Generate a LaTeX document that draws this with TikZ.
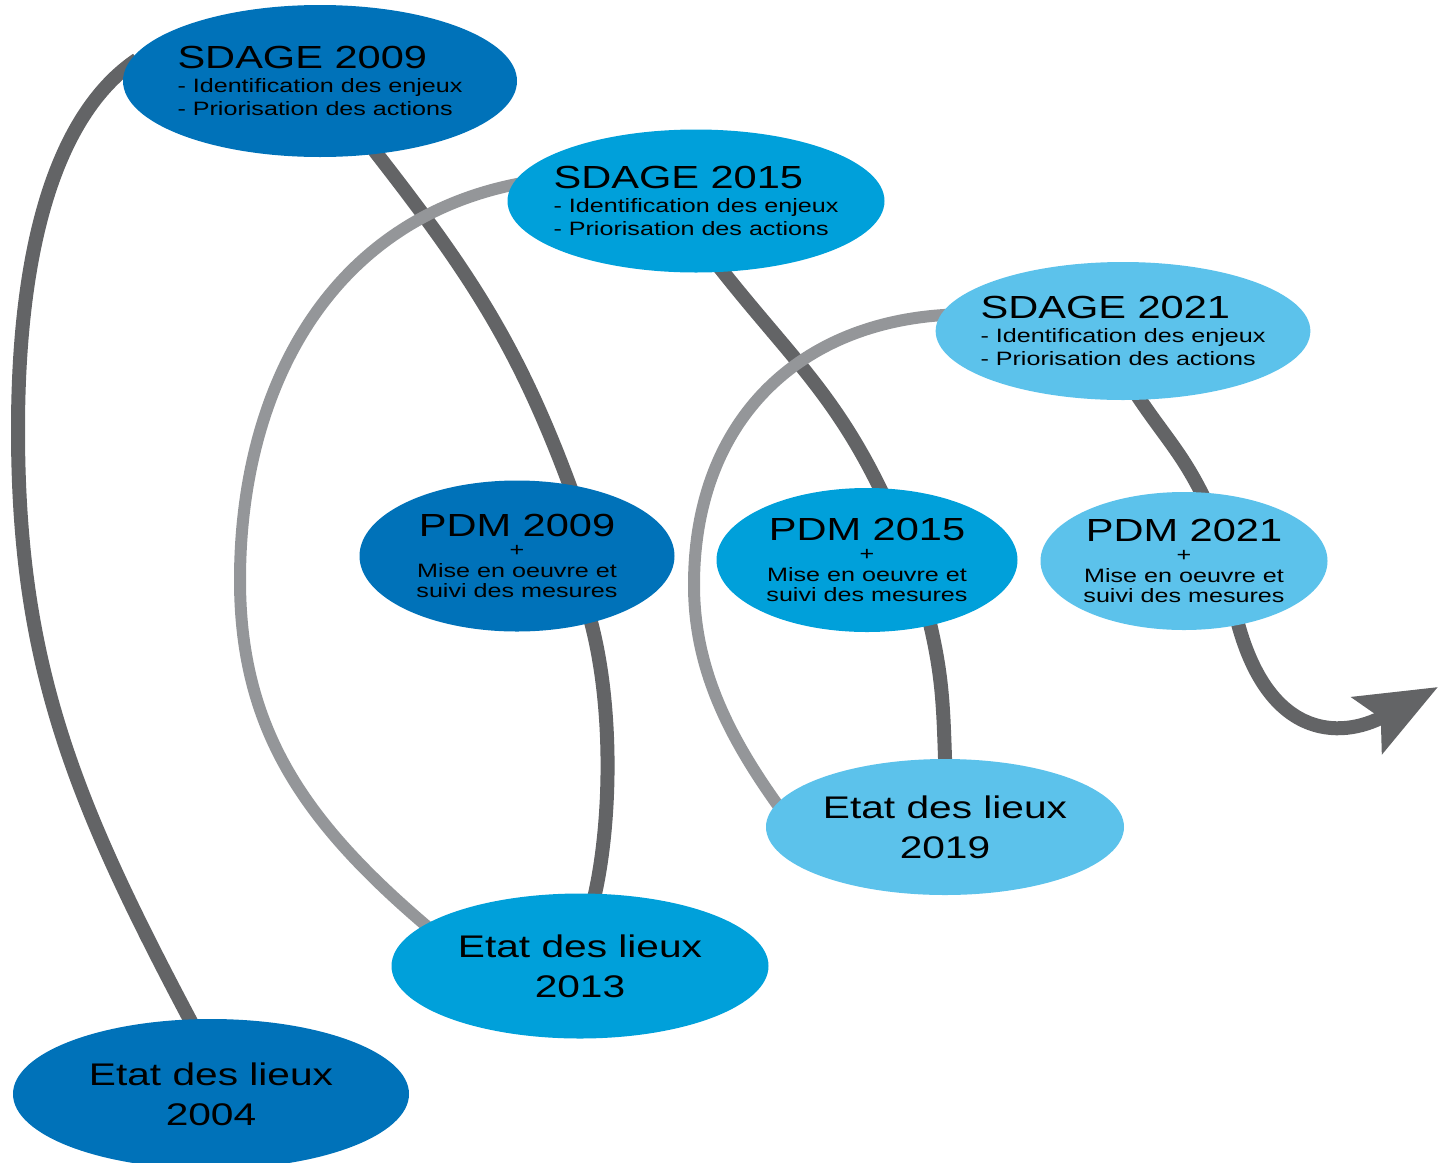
\documentclass[tikz,border=0pt]{standalone}
\usepackage{fontspec}
\setmainfont{Liberation Sans}[FakeStretch=1.3]
\usetikzlibrary{shapes}
\usetikzlibrary{arrows.meta}
\usetikzlibrary{backgrounds}
\definecolor{bluea}{RGB}{0,114,185}
\definecolor{blueb}{RGB}{0,160,218}
\definecolor{bluec}{RGB}{92,194,235}
\definecolor{grayd}{RGB}{99,100,102}
\definecolor{grayl}{RGB}{148,150,153}
\newcommand{\titfont}{\fontsize{9.1}{11}\selectfont}
\tikzset{
    stage/.style = {ellipse, inner sep=-1mm, text=black},
    sdage/.style = {stage, align=left, font=\fontsize{5.5}{6.8}\selectfont},
    pdm/.style = {stage, align=center, font=\fontsize{5.5}{5.8}\selectfont},
    etat/.style = {stage, align=center, font=\fontsize{8.9}{11.4}\selectfont},
    edged/.style = {line width=1.4mm, grayd, shorten <=-4pt, shorten >=-4pt}, % cycle
    edgel/.style = {line width=1.2mm, grayl, shorten <=-4pt, shorten >=-4pt}, % back
}

\begin{document}
\begin{tikzpicture}[x=0.1mm, y=0.1mm]
  \useasboundingbox (0,0) rectangle (1439,-1162);

  \node[sdage, fill=bluea, minimum width=39.4mm, minimum height=15.2mm] (s09) at (320,-81)
    {{\titfont SDAGE 2009}\\- Identification des enjeux\\- Priorisation des actions};
  \node[sdage, fill=blueb, minimum width=37.7mm, minimum height=14.3mm] (s15) at (696,-201)
    {{\titfont SDAGE 2015}\\- Identification des enjeux\\- Priorisation des actions};
  \node[sdage, fill=bluec, minimum width=35.8mm, minimum height=13.8mm] (s21) at (1123,-331)
    {{\titfont SDAGE 2021}\\- Identification des enjeux\\- Priorisation des actions};

  \node[pdm, fill=bluea, minimum width=31.5mm, minimum height=15.1mm] (p09) at (517,-556)
    {{\titfont PDM 2009}\\+\\Mise en oeuvre et\\suivi des mesures};
  \node[pdm, fill=blueb, minimum width=30.1mm, minimum height=14.4mm] (p15) at (867,-560)
    {{\titfont PDM 2015}\\+\\Mise en oeuvre et\\suivi des mesures};
  \node[pdm, fill=bluec, minimum width=28.7mm, minimum height=13.8mm] (p21) at (1184,-561)
    {{\titfont PDM 2021}\\+\\Mise en oeuvre et\\suivi des mesures};

  \node[etat, fill=bluea, minimum width=39.6mm, minimum height=15.0mm] (e04) at (211,-1094) {Etat des lieux\\2004};
  \node[etat, fill=blueb, minimum width=37.7mm, minimum height=14.5mm] (e13) at (580,-966) {Etat des lieux\\2013};
  \node[etat, fill=bluec, minimum width=35.8mm, minimum height=13.6mm] (e19) at (945,-827) {Etat des lieux\\2019};

  \coordinate (tip) at (1438,-687);

  \begin{scope}[on background layer]
    \draw[edged] (e04.106) to[out=118,in=-90] (18,-430) .. controls (18,-250) and (55,-115) .. (s09.176);
    \draw[edged] (s09.-52) to[out=-52,in=110] (p09.54);
    \draw[edged] (p09.-42) .. controls (615,-700) and (612,-830) .. (e13.78);
    \draw[edged] (s15.-69) to[out=-52,in=115] (p15.80);
    \draw[edged] (p15.-46) to[out=-76,in=92] (e19.90);
    \draw[edged] (s21.-76) to[out=-57,in=115] (p21.76);
    \draw[edged, shorten >=0pt, -{Stealth[length=8mm, width=6.3mm, inset=1.5mm]}]
      (p21.-50) .. controls (1265,-740) and (1340,-740) .. (tip);
    \draw[edgel] (e13.165) to[out=140,in=-90] (240,-580) to[out=90,in=190] (s15.175);
    \draw[edgel] (e19.172) .. controls (730,-740) and (694,-670) .. (694,-585)
      .. controls (694,-420) and (800,-320) .. (s21.175);
  \end{scope}
\end{tikzpicture}
\end{document}
